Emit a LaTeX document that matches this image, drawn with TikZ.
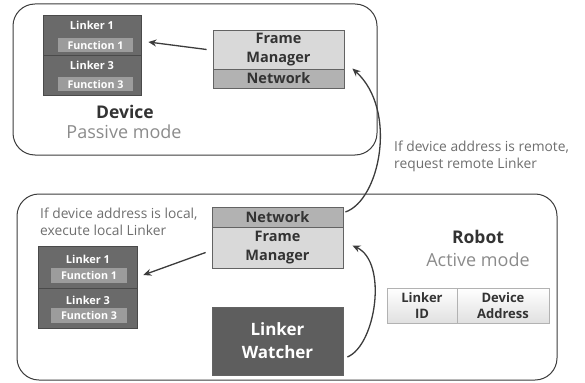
\documentclass[tikz,border=0pt]{standalone}
\usepackage{fontspec}
\setmainfont{Open Sans}
\usetikzlibrary{arrows.meta}
\definecolor{stackc}{HTML}{6A6A6A}
\definecolor{funcc}{HTML}{9C9C9C}
\definecolor{fmc}{HTML}{D9D9D9}
\definecolor{netc}{HTML}{B2B2B2}
\definecolor{lwc}{HTML}{5E5E5E}
\definecolor{linec}{HTML}{3C3C3C}
\definecolor{txtc}{HTML}{333333}
\definecolor{greyt}{HTML}{6E6E6E}
\begin{document}
\begin{tikzpicture}[x=1pt,y=-1pt,
  container/.style={draw=linec,line width=1pt,rounded corners=22pt},
  stackbox/.style={draw=stackc!70!black,fill=stackc,line width=0.7pt,inner sep=0pt},
  funcbox/.style={fill=funcc,inner sep=0pt,minimum width=75pt,minimum height=14pt,text=white,font=\fontsize{10.7}{12}\selectfont\bfseries},
  linkertxt/.style={text=white,font=\fontsize{11}{12}\selectfont\bfseries,inner sep=0pt},
  fmbox/.style={draw=linec!80,fill=fmc,line width=0.8pt,inner sep=0pt,minimum width=131pt,text=txtc,align=center,font=\fontsize{14.5}{18.5}\selectfont\bfseries},
  netbox/.style={draw=linec!80,fill=netc,line width=0.8pt,inner sep=0pt,minimum width=131pt,text=txtc,font=\fontsize{14.5}{16}\selectfont\bfseries},
  lwbox/.style={draw=linec!80,fill=lwc,line width=0.8pt,inner sep=0pt,minimum width=131pt,minimum height=68pt,text=white,align=center,font=\fontsize{17}{23}\selectfont\bfseries},
  arr/.style={draw=linec,line width=1.3pt,-{Stealth[length=8pt,width=7pt]}},
  note/.style={text=greyt,align=left,anchor=west,inner sep=0pt,font=\fontsize{13.8}{17}\selectfont},
  title/.style={text=txtc,inner sep=0pt,font=\fontsize{17.5}{20}\selectfont\bfseries},
  mode/.style={text=greyt!80,inner sep=0pt,font=\fontsize{18}{20}\selectfont},
  cell/.style={draw=black!30,top color=white,bottom color=black!12,inner sep=0pt,minimum height=35pt,align=center,text=txtc,font=\fontsize{13}{15.5}\selectfont\bfseries}
]
\useasboundingbox (0,0) rectangle (585,382);
% containers
\draw[container] (13,4) rectangle (377,155);
\draw[container] (17,194) rectangle (557,380);

% ---- top (Device) ----
\node[stackbox,minimum width=98pt,minimum height=40pt] (tL1) at (92,35) {};
\node[stackbox,minimum width=98pt,minimum height=40pt] (tL3) at (92,75) {};
\node[linkertxt] (tL1t) at (92,25.5) {Linker 1};
\node[funcbox] (tF1) at (95.5,45) {Function 1};
\node[linkertxt] (tL3t) at (92,65.5) {Linker 3};
\node[funcbox] (tF3) at (95.5,84) {Function 3};

\node[fmbox,minimum height=39pt] (tFM) at (278.5,49.5) {Frame\\Manager};
\node[netbox,minimum height=19pt] (tNet) at (278.5,78.5) {Network};

\node[title] (dev) at (125,112) {Device};
\node[mode] (devm) at (124,132) {Passive mode};

\draw[arr] ([xshift=-6pt]tFM.west) -- ([xshift=7pt,yshift=-7pt]tL1.east);

% ---- bottom (Robot) ----
\node[note] (local) at (40,221.5) {If device address is local,\\execute local Linker};

\node[stackbox,minimum width=99pt,minimum height=42pt] (bL1) at (87.5,267) {};
\node[stackbox,minimum width=99pt,minimum height=40pt] (bL3) at (87.5,308) {};
\node[linkertxt] (bL1t) at (88,259) {Linker 1};
\node[funcbox,minimum width=76pt,minimum height=15pt] (bF1) at (89,275.5) {Function 1};
\node[linkertxt] (bL3t) at (88,300) {Linker 3};
\node[funcbox,minimum width=76pt,minimum height=15pt] (bF3) at (89,315.5) {Function 3};

\node[netbox,minimum height=20pt] (bNet) at (277.5,217) {Network};
\node[fmbox,minimum height=41pt] (bFM) at (277.5,247.5) {Frame\\Manager};
\node[lwbox] (bLW) at (277.5,341) {Linker\\Watcher};

\draw[arr] ([xshift=-6pt,yshift=-5pt]bFM.west) -- ([xshift=6pt,yshift=-8pt]bL1.east);

\node[title] (rob) at (478,237) {Robot};
\node[mode] (robm) at (478,260) {Active mode};

\node[cell,minimum width=70pt] (cid) at (422,305.5) {Linker\\ID};
\node[cell,minimum width=92pt] (caddr) at (503,305.5) {Device\\Address};

\node[note] (remote) at (394,156.5) {If device address is remote,\\request remote Linker};

% curved arrows
\draw[arr] ([xshift=2pt,yshift=5pt]bNet.east) .. controls (380,200) and (398,110) .. ([xshift=8pt,yshift=10pt]tNet.east);
\draw[arr] ([xshift=4pt,yshift=-16pt]bLW.east) .. controls (376,345) and (388,262) .. ([xshift=9pt,yshift=2pt]bFM.east);
\end{tikzpicture}
\end{document}
